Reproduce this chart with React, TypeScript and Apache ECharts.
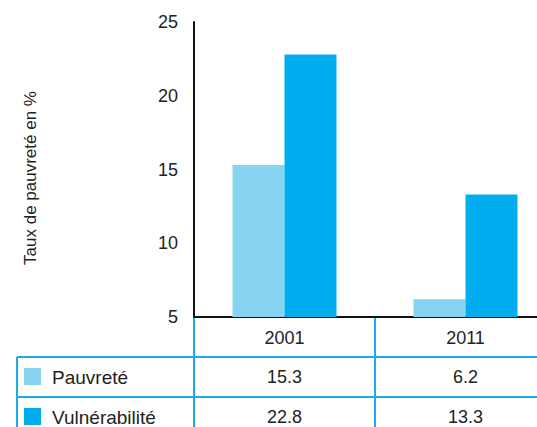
import React, { useEffect, useRef } from "react";
import * as echarts from "echarts";

const categories = ["2001", "2011"];
const seriesNames = ["Pauvreté", "Vulnérabilité"];
const pauvrete = [15.3, 6.2];
const vulnerabilite = [22.8, 13.3];
const tableValues = [
  ["15.3", "6.2"],
  ["22.8", "13.3"],
];
const colors = ["#86D3F2", "#00AEEF"];
const lineColor = "#1AAAE6";
const FONT = "'Liberation Sans', Arial, sans-serif";

export default function App() {
  const ref = useRef<HTMLDivElement>(null);
  useEffect(() => {
    if (!ref.current) return;
    const chart = echarts.init(ref.current, null, { renderer: "svg" });
    const gridLeft = 194;
    const gridTop = 22;
    const gridBottomY = 317;
    chart.setOption({
      animation: false,
      textStyle: { fontFamily: FONT },
      grid: { left: gridLeft, top: gridTop, height: gridBottomY - gridTop, width: 362, containLabel: false },
      xAxis: {
        type: "category",
        data: categories,
        axisLine: { show: true, lineStyle: { color: "#111", width: 2 } },
        axisTick: { show: false },
        axisLabel: { fontSize: 18, color: "#222", margin: 12, fontFamily: FONT },
      },
      yAxis: {
        type: "value",
        min: 5,
        max: 25,
        interval: 5,
        axisLine: { show: true, lineStyle: { color: "#111", width: 2 } },
        axisTick: { show: false },
        splitLine: { show: false },
        axisLabel: { fontSize: 18, color: "#222", margin: 16, fontFamily: FONT },
      },
      series: [
        {
          name: seriesNames[0],
          type: "bar",
          data: pauvrete,
          barWidth: 52,
          barGap: "0%",
          itemStyle: { color: colors[0] },
        },
        {
          name: seriesNames[1],
          type: "bar",
          data: vulnerabilite,
          barWidth: 52,
          barGap: "0%",
          itemStyle: { color: colors[1] },
        },
      ],
    });

    const cx = categories.map((c) => chart.convertToPixel({ xAxisIndex: 0 }, c) as number);
    const sepX = (cx[0] + cx[1]) / 2;
    const rowTops = [357, 397];
    const rowH = 40;
    const W = 560;
    const elements: any[] = [];
    const ln = (x1: number, y1: number, x2: number, y2: number) => ({
      type: "line",
      shape: { x1, y1, x2, y2 },
      style: { stroke: lineColor, lineWidth: 2 },
      z: 10,
    });
    elements.push(ln(gridLeft, gridBottomY + 1, gridLeft, 430));
    elements.push(ln(sepX, gridBottomY + 1, sepX, 430));
    elements.push(ln(17, rowTops[0], W, rowTops[0]));
    elements.push(ln(17, rowTops[1], W, rowTops[1]));
    elements.push(ln(17, rowTops[0], 17, 430));
    seriesNames.forEach((name, i) => {
      const cy = rowTops[i] + rowH / 2;
      elements.push({
        type: "rect",
        shape: { x: 24, y: cy - 9, width: 17, height: 17 },
        style: { fill: colors[i] },
      });
      elements.push({
        type: "text",
        x: 52,
        y: cy,
        style: { text: name, fill: "#222", font: `19px ${FONT}`, textAlign: "left", textVerticalAlign: "middle" },
      });
      tableValues[i].forEach((v, j) => {
        elements.push({
          type: "text",
          x: cx[j],
          y: cy,
          style: { text: v, fill: "#222", font: `18px ${FONT}`, textAlign: "center", textVerticalAlign: "middle" },
        });
      });
    });
    elements.push({
      type: "text",
      x: 30,
      y: 178,
      rotation: Math.PI / 2,
      style: {
        text: "Taux de pauvreté en %",
        font: `17px ${FONT}`,
        fill: "#222",
        textAlign: "center",
        textVerticalAlign: "middle",
      },
    });
    chart.setOption({ graphic: { elements } });
    return () => chart.dispose();
  }, []);
  return (
    <div style={{ position: "absolute", left: 0, top: 0, width: 537, height: 427, overflow: "hidden" }}>
      <div ref={ref} style={{ width: 560, height: 427 }} />
    </div>
  );
}
